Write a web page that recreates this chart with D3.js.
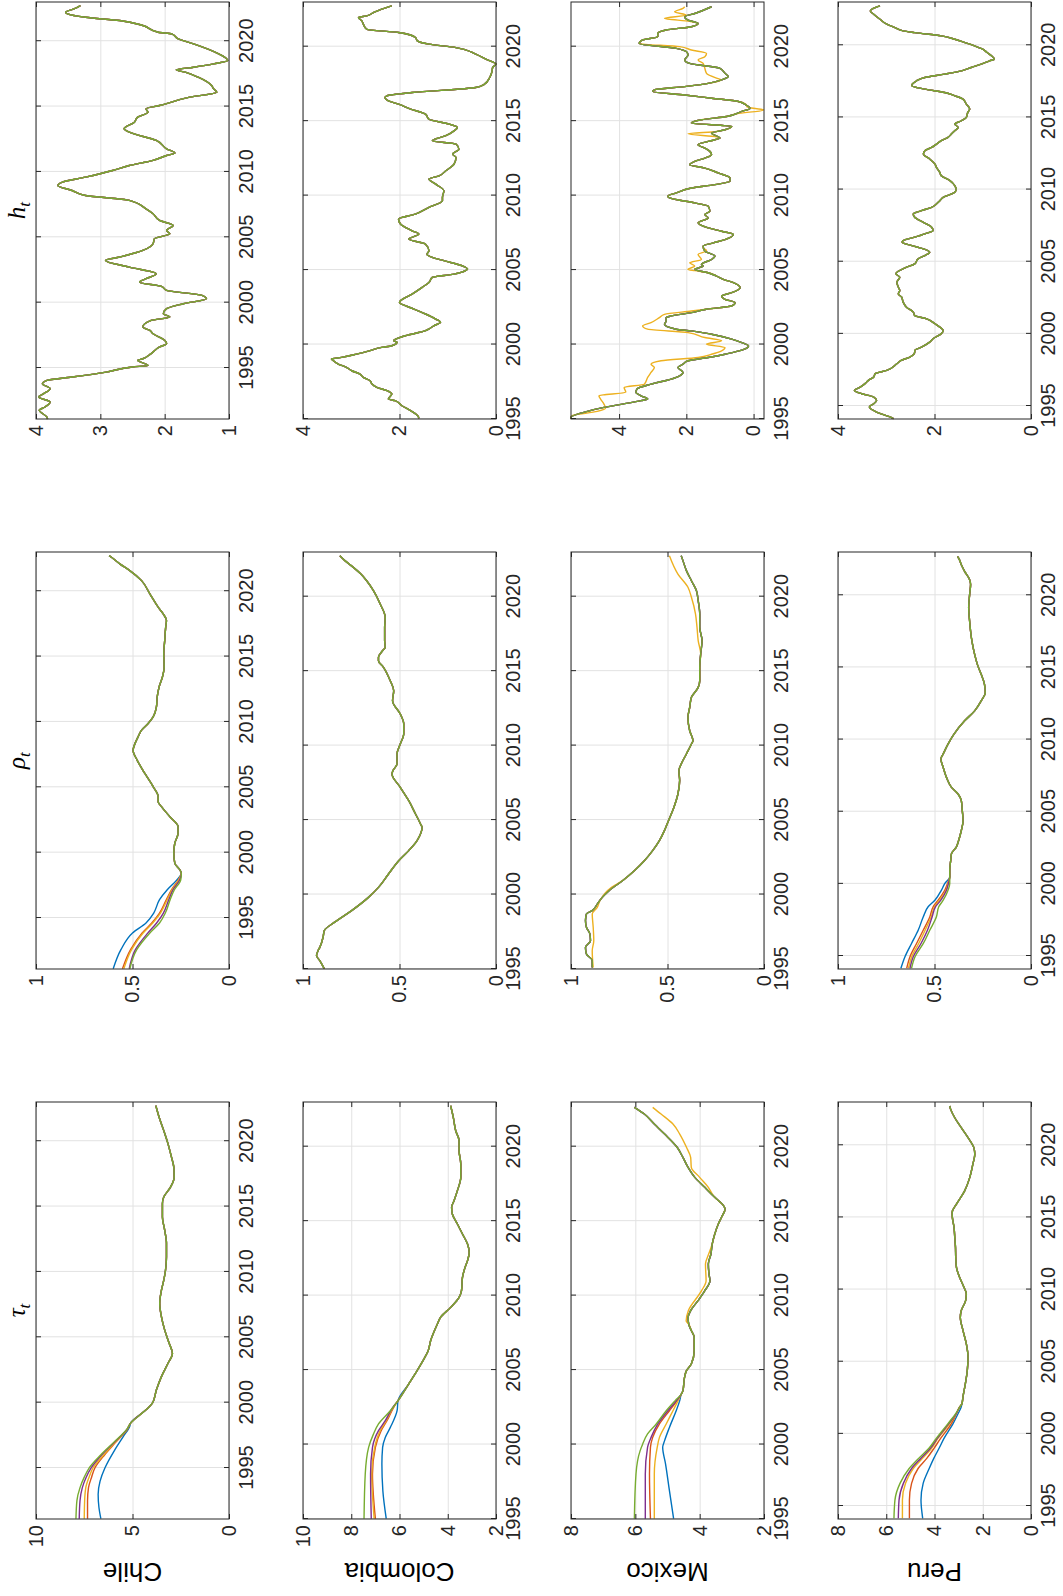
<!DOCTYPE html>
<meta charset="utf-8">
<title>Trend, persistence and volatility by country</title>
<style>
  body { margin: 0; background: #fff; }
  svg { display: block; }
  .tick text { font-family: "Liberation Sans", Arial, Helvetica, sans-serif; font-size: 20px; fill: #262626; }
  .frame line { stroke: #262626; }
  .grid line { stroke: #e2e2e2; }
  .domain { display: none; }
  .country { font-family: "Liberation Sans", Arial, Helvetica, sans-serif; font-size: 26px; fill: #000; }
  .title { font-family: "Liberation Serif", "DejaVu Serif", serif; font-style: italic; font-size: 25px; fill: #000; }
</style>
<body>
<svg width="1063" height="1596"></svg>
<script src="https://d3js.org/d3.v7.min.js"></script>
<script>
// ---------- data (year, value) ----------
const countries = ["Chile", "Colombia", "Mexico", "Peru"];
const titles = ["τ", "ρ", "h"];
const seriesColors = ["#0072BD", "#D95319", "#EDB120", "#7E2F8E", "#77AC30"];
const yearTicks = [1995, 2000, 2005, 2010, 2015, 2020];
const yearDomains = [[1991.1, 2023], [1995, 2023], [1995, 2023], [1994.1, 2023]];

const pairs = (ys, vs) => ys.map((y, i) => [y, vs[i]]);

// tau
const chileTauBase = [[1998.43,5.1],[1999.45,4.3],[1999.96,3.97],[2000.98,3.76],[2001.99,3.5],[2003.01,3.16],[2003.77,2.93],[2004.54,3.1],[2005.55,3.33],[2006.57,3.5],[2007.59,3.59],[2008.61,3.5],[2009.37,3.38],[2010.13,3.29],[2011.15,3.24],[2012.17,3.24],[2013.18,3.33],[2014.2,3.45],[2015.22,3.45],[2015.73,3.38],[2016.49,3.03],[2017.25,2.84],[2018.02,2.86],[2018.78,2.98],[2019.8,3.16],[2020.81,3.38],[2021.83,3.62],[2022.72,3.79]];
const chileTauHeads = [
  [[1991.12,6.64],[1992,6.74],[1993,6.78],[1994,6.68],[1995,6.43],[1996.4,5.91],[1997.4,5.48],[1998.2,5.14]],
  [[1991.12,7.33],[1992.5,7.33],[1993.5,7.28],[1994.3,7.12],[1995,6.95],[1996,6.45],[1997,5.85],[1998,5.25]],
  [[1991.12,7.5],[1992.5,7.48],[1993.5,7.42],[1994.3,7.25],[1995,7.05],[1996,6.5],[1997,5.88],[1998,5.26]],
  [[1991.12,7.76],[1992.5,7.72],[1993.5,7.6],[1994.3,7.4],[1995,7.15],[1996,6.6],[1997,5.92],[1998,5.27]],
  [[1991.12,7.93],[1992.5,7.88],[1993.5,7.72],[1994.3,7.5],[1995,7.25],[1996,6.65],[1997,5.95],[1998,5.28]]
];

const colombiaTauBase = [[2002.95,6.06],[2004.06,5.62],[2004.96,5.27],[2005.85,4.95],[2006.3,4.81],[2006.97,4.71],[2008.09,4.43],[2008.54,4.3],[2009.21,3.88],[2009.88,3.53],[2010.33,3.43],[2011.23,3.39],[2011.9,3.28],[2012.35,3.18],[2012.9,3.11],[2013.46,3.18],[2014.14,3.39],[2014.81,3.6],[2015.48,3.81],[2015.93,3.84],[2016.37,3.74],[2017.05,3.6],[2017.94,3.46],[2018.84,3.46],[2019.73,3.53],[2020.4,3.53],[2021.07,3.67],[2021.97,3.77],[2022.75,3.88]];
const colombiaTauHeads = [
  [[1995.02,6.55],[1996.9,6.69],[1998.69,6.73],[1999.81,6.7],[2000.48,6.59],[2001.15,6.38],[2002.27,6.1]],
  [[1995.02,7.0],[1998.02,7.12],[1999.81,7.0],[2000.93,6.76],[2001.6,6.52],[2002.5,6.24]],
  [[1995.02,7.05],[1998.02,7.15],[1999.81,7.03],[2000.93,6.8],[2001.6,6.55],[2002.5,6.26]],
  [[1995.02,7.17],[1998.02,7.2],[1999.81,7.12],[2000.93,6.87],[2001.6,6.59],[2002.5,6.28]],
  [[1995.02,7.47],[1998.02,7.42],[1999.81,7.28],[2000.7,7.08],[2001.38,6.87],[2002.27,6.38]]
];

const mexicoTauBase = [[2003.39,4.57],[2003.62,4.52],[2004.51,4.47],[2004.96,4.41],[2005.41,4.26],[2006.3,4.17],[2007.2,4.17],[2007.65,4.26],[2008.09,4.34],[2008.54,4.36],[2008.99,4.28],[2009.66,4.05],[2010.33,3.84],[2011.0,3.68],[2011.45,3.71],[2012.12,3.73],[2012.79,3.65],[2013.46,3.61],[2014.14,3.53],[2014.81,3.42],[2015.26,3.32],[2015.81,3.21],[2016.04,3.26],[2016.6,3.53],[2017.27,3.84],[2017.94,4.15],[2018.61,4.36],[2019.28,4.52],[2019.96,4.7],[2020.85,5.09],[2021.52,5.41],[2022.19,5.72],[2022.64,6.03]];
const mexicoTauHeads = [
  [[1995.02,4.81],[1996.9,4.94],[1998.69,5.06],[1999.81,5.15],[2000.26,5.09],[2001.15,4.94],[2002.27,4.73],[2002.95,4.62]],
  [[1995.02,5.53],[1998.02,5.56],[1999.81,5.53],[2000.48,5.46],[2001.38,5.25],[2002.27,4.94],[2002.95,4.7]],
  [[1995.02,5.41],[1998.02,5.41],[1999.81,5.32],[2000.48,5.25],[2001.38,5.04],[2002.27,4.83],[2002.95,4.67]],
  [[1995.02,5.69],[1998.02,5.69],[1999.81,5.62],[2000.48,5.51],[2001.38,5.3],[2002.27,4.99],[2002.95,4.72]],
  [[1995.02,6.03],[1998.02,5.98],[1999.59,5.85],[2000.04,5.77],[2000.71,5.62],[2001.38,5.35],[2002.27,5.04],[2002.95,4.76]]
];
const mexicoTauYellowMid = [[2008.3,4.42],[2009.0,4.35],[2010.33,3.94],[2011.0,3.8],[2012.12,3.82],[2012.79,3.72]];
const mexicoTauYellowTail = [[2016.8,3.6],[2017.27,3.73],[2017.94,4.0],[2018.61,4.26],[2019.28,4.28],[2019.96,4.41],[2020.85,4.62],[2021.52,4.83],[2022.19,5.2],[2022.64,5.46]];

const peruTauBase = [[2002.1,2.86],[2002.56,2.82],[2003.48,2.72],[2004.4,2.64],[2005.32,2.61],[2006.24,2.68],[2007.17,2.82],[2008.09,2.93],[2008.55,2.89],[2009.24,2.71],[2009.7,2.68],[2010.16,2.78],[2010.85,2.96],[2011.54,3.09],[2012.24,3.12],[2012.93,3.13],[2013.62,3.16],[2014.31,3.19],[2015.0,3.26],[2015.35,3.27],[2015.92,3.09],[2016.84,2.75],[2017.76,2.54],[2018.69,2.41],[2019.38,2.33],[2019.84,2.37],[2020.53,2.61],[2021.22,2.89],[2021.91,3.16],[2022.49,3.33],[2022.72,3.37]];
const peruTauHeadYears = [1994.15,1995.41,1996.57,1997.6,1998.3,1999.0,1999.7,2000.71,2001.41,2001.87];
const peruTauHeadValues = [
  [4.49,4.56,4.47,4.22,4.03,3.81,3.6,3.23,3.02,2.89],
  [5.04,5.04,4.95,4.68,4.32,4.02,3.74,3.3,3.09,2.96],
  [5.33,5.33,5.2,4.88,4.5,4.12,3.85,3.37,3.09,2.95],
  [5.5,5.47,5.29,4.95,4.57,4.17,3.88,3.41,3.1,2.95],
  [5.68,5.64,5.43,5.05,4.66,4.23,3.92,3.44,3.12,2.95]
];

// rho
const chileRhoBase = [[1998.43,0.247],[1998.69,0.255],[1999.2,0.281],[1999.96,0.286],[2000.72,0.281],[2001.49,0.264],[2001.99,0.264],[2002.76,0.307],[2003.52,0.35],[2003.9,0.367],[2004.28,0.367],[2005.05,0.393],[2006.06,0.436],[2007.08,0.476],[2007.84,0.497],[2008.1,0.493],[2008.86,0.471],[2009.37,0.453],[2009.88,0.419],[2010.39,0.393],[2011.15,0.376],[2011.91,0.372],[2012.68,0.362],[2013.44,0.345],[2014.2,0.336],[2015.22,0.338],[2016.24,0.333],[2017.25,0.328],[2017.76,0.324],[2018.27,0.341],[2018.78,0.367],[2019.8,0.41],[2020.81,0.453],[2021.58,0.514],[2022.09,0.566],[2022.6,0.609],[2022.72,0.621]];
const chileRhoHeadYears = [1991.12,1992.58,1993.86,1994.62,1995.38,1996.4,1997.16,1997.92];
const chileRhoHeadValues = [
  [0.6,0.56,0.5,0.43,0.39,0.36,0.32,0.27],
  [0.552,0.51,0.45,0.4,0.36,0.325,0.298,0.262],
  [0.545,0.505,0.445,0.395,0.355,0.32,0.295,0.26],
  [0.517,0.485,0.42,0.375,0.34,0.312,0.29,0.255],
  [0.514,0.478,0.41,0.36,0.33,0.305,0.283,0.25]
];

const colombiaRho = [[1995.02,0.89],[1995.56,0.913],[1995.9,0.93],[1996.23,0.922],[1996.45,0.913],[1997.13,0.896],[1997.57,0.89],[1998.13,0.838],[1998.92,0.748],[1999.81,0.661],[2000.48,0.609],[2001.38,0.557],[2002.27,0.504],[2002.95,0.452],[2003.62,0.409],[2004.51,0.383],[2004.74,0.391],[2005.41,0.417],[2006.3,0.452],[2007.2,0.496],[2008.09,0.539],[2008.32,0.534],[2008.76,0.513],[2009.44,0.513],[2010.11,0.496],[2010.78,0.478],[2011.45,0.478],[2012.12,0.496],[2013.02,0.536],[2013.69,0.53],[2014.36,0.548],[2015.26,0.583],[2015.7,0.609],[2015.93,0.609],[2016.37,0.588],[2016.6,0.574],[2017.05,0.577],[2017.94,0.577],[2018.61,0.574],[2019.51,0.6],[2020.4,0.635],[2021.07,0.67],[2021.52,0.7],[2021.97,0.739],[2022.42,0.783],[2022.75,0.809]];

const mexicoRho = [[1995.1,0.89],[1995.56,0.89],[1996.01,0.92],[1996.45,0.925],[1996.9,0.899],[1997.35,0.902],[1997.8,0.92],[1998.25,0.925],[1998.69,0.92],[1998.92,0.89],[1999.36,0.864],[1999.81,0.838],[2000.26,0.803],[2000.93,0.733],[2001.6,0.672],[2002.27,0.62],[2002.95,0.577],[2003.62,0.542],[2004.29,0.516],[2004.96,0.495],[2005.85,0.467],[2006.75,0.446],[2007.65,0.437],[2008.32,0.441],[2008.76,0.429],[2009.44,0.402],[2010.11,0.376],[2010.33,0.368],[2011.0,0.385],[2011.9,0.394],[2012.57,0.385],[2013.24,0.376],[2013.91,0.341],[2014.36,0.333],[2015.26,0.333],[2016.15,0.328],[2017.05,0.321],[2017.94,0.333],[2018.84,0.333],[2019.73,0.341],[2020.4,0.35],[2021.07,0.376],[2021.75,0.402],[2022.42,0.42],[2022.75,0.429]];
const mexicoRhoYellowHead = [[1995.1,0.885],[1996.23,0.89],[1996.9,0.882],[1997.8,0.885],[1998.69,0.89],[1999.14,0.864],[1999.59,0.85],[2000.48,0.79]];
const mexicoRhoYellowTail = [[2017.05,0.341],[2017.94,0.347],[2018.84,0.355],[2019.96,0.376],[2020.63,0.394],[2021.52,0.446],[2022.75,0.49]];

const peruRhoBase = [[2000.48,0.421],[2000.94,0.421],[2001.63,0.416],[2002.09,0.412],[2002.55,0.387],[2003.01,0.375],[2003.7,0.361],[2004.39,0.352],[2005.08,0.356],[2005.77,0.361],[2006.23,0.378],[2006.69,0.412],[2007.38,0.438],[2008.08,0.455],[2008.65,0.467],[2009.0,0.455],[2009.69,0.43],[2010.38,0.399],[2011.3,0.344],[2011.99,0.292],[2012.68,0.258],[2013.25,0.237],[2013.83,0.241],[2014.52,0.258],[2015.21,0.278],[2015.9,0.292],[2016.82,0.306],[2017.51,0.313],[2018.2,0.318],[2019.13,0.323],[2020.05,0.318],[2020.74,0.313],[2021.08,0.318],[2021.66,0.344],[2022.12,0.361],[2022.58,0.375],[2022.69,0.381]];
const peruRhoHeadYears = [1994.15,1994.95,1995.87,1996.8,1997.72,1998.41,1998.87,1999.56,2000.02];
const peruRhoHeadValues = [
  [0.674,0.653,0.619,0.584,0.558,0.533,0.498,0.464,0.447],
  [0.644,0.627,0.593,0.558,0.524,0.507,0.481,0.447,0.433],
  [0.635,0.618,0.582,0.548,0.517,0.5,0.474,0.44,0.43],
  [0.627,0.61,0.57,0.536,0.512,0.495,0.467,0.438,0.428],
  [0.619,0.601,0.558,0.524,0.49,0.478,0.455,0.43,0.421]
];

// h
const chileH = [[1991.1,3.82],[1991.25,3.83],[1991.76,3.95],[1992.02,3.86],[1992.4,3.78],[1992.78,3.96],[1993.04,3.88],[1993.42,3.78],[1993.8,3.9],[1994.06,3.83],[1994.31,3.44],[1994.69,2.91],[1995.08,2.5],[1995.2,2.26],[1995.59,2.42],[1995.71,2.34],[1996.1,2.21],[1996.61,2.08],[1996.86,1.97],[1997.12,2.0],[1997.62,2.18],[1997.88,2.23],[1998.13,2.34],[1998.64,2.21],[1998.9,1.92],[1999.15,2.02],[1999.54,1.97],[1999.92,1.71],[2000.3,1.35],[2000.56,1.42],[2000.94,1.97],[2001.24,2.05],[2001.57,2.39],[2001.83,2.29],[2002.21,2.13],[2002.72,2.55],[2003.23,2.92],[2003.49,2.7],[2004.0,2.34],[2004.51,2.18],[2004.89,2.16],[2005.27,1.92],[2005.52,1.97],[2005.91,1.87],[2006.29,2.08],[2006.8,2.18],[2007.18,2.29],[2007.82,2.55],[2008.2,3.23],[2008.58,3.44],[2008.97,3.66],[2009.22,3.59],[2009.6,3.23],[2010.11,2.81],[2010.49,2.55],[2010.88,2.18],[2011.26,1.97],[2011.44,1.84],[2011.77,1.97],[2012.41,2.13],[2013.04,2.55],[2013.3,2.63],[2013.81,2.47],[2014.19,2.42],[2014.57,2.26],[2014.83,2.29],[2015.08,2.08],[2015.72,1.61],[2016.1,1.19],[2016.36,1.24],[2016.61,1.27],[2017.25,1.48],[2017.63,1.68],[2017.81,1.82],[2018.01,1.55],[2018.27,1.24],[2018.52,1.02],[2019.03,1.16],[2019.8,1.55],[2020.18,1.79],[2020.56,1.89],[2020.69,2.1],[2021.2,2.34],[2021.58,2.7],[2021.83,3.23],[2022.09,3.51],[2022.22,3.54],[2022.47,3.41],[2022.73,3.31]];

const colombiaH = [[1995.05,1.6],[1995.16,1.61],[1995.56,1.77],[1995.89,1.95],[1996.23,2.09],[1996.34,2.23],[1996.68,2.16],[1996.9,2.26],[1997.13,2.47],[1997.35,2.57],[1997.57,2.61],[1997.8,2.75],[1998.02,2.82],[1998.24,2.99],[1998.47,3.1],[1998.69,3.27],[1998.91,3.37],[1999.03,3.41],[1999.14,3.2],[1999.36,2.89],[1999.59,2.61],[1999.81,2.37],[1999.92,2.16],[2000.15,2.05],[2000.26,2.12],[2000.59,1.88],[2000.93,1.46],[2001.04,1.39],[2001.26,1.29],[2001.49,1.15],[2001.71,1.25],[2002.05,1.46],[2002.38,1.7],[2002.61,1.88],[2002.83,2.0],[2002.94,1.98],[2003.39,1.74],[2003.84,1.53],[2004.17,1.39],[2004.51,1.32],[2004.73,0.87],[2004.96,0.63],[2005.07,0.59],[2005.29,0.7],[2005.63,1.08],[2005.85,1.32],[2006.07,1.43],[2006.3,1.39],[2006.74,1.46],[2007.08,1.81],[2007.42,1.6],[2007.64,1.74],[2008.09,1.98],[2008.42,2.02],[2008.76,1.67],[2009.21,1.39],[2009.65,1.11],[2009.88,1.11],[2010.32,1.08],[2010.77,1.25],[2011.11,1.39],[2011.33,1.18],[2011.67,1.04],[2012.11,0.87],[2012.56,0.83],[2012.79,0.9],[2013.12,0.77],[2013.46,0.83],[2013.68,1.32],[2014.02,1.04],[2014.35,0.87],[2014.57,0.8],[2014.8,0.97],[2015.13,1.39],[2015.47,1.46],[2015.81,1.77],[2016.14,2.02],[2016.36,2.23],[2016.59,2.3],[2016.7,2.26],[2016.92,1.74],[2017.26,0.42],[2017.48,0.24],[2017.93,0.13],[2018.38,0.08],[2018.6,0.07],[2018.83,0.0],[2019.16,0.21],[2019.5,0.42],[2019.94,0.83],[2020.17,1.39],[2020.39,1.63],[2020.62,1.67],[2020.95,2.02],[2021.17,2.68],[2021.51,2.75],[2021.73,2.78],[2021.96,2.85],[2022.07,2.68],[2022.29,2.54],[2022.52,2.37],[2022.74,2.16]];

const mexicoH = [[1995.02,5.43],[1995.11,5.43],[1995.45,5.05],[1995.78,4.45],[1996.0,3.9],[1996.23,3.35],[1996.34,3.15],[1996.56,3.35],[1996.79,3.5],[1997.01,3.47],[1997.34,3.05],[1997.68,2.45],[1997.9,2.2],[1998.13,2.1],[1998.46,2.25],[1998.68,2.1],[1998.91,1.95],[1999.13,1.35],[1999.35,0.85],[1999.69,0.27],[1999.91,0.15],[2000.13,0.35],[2000.36,0.65],[2000.69,1.25],[2000.92,1.85],[2001.03,2.3],[2001.36,2.65],[2001.58,2.6],[2001.81,2.6],[2001.92,2.45],[2002.14,1.85],[2002.37,1.4],[2002.59,0.65],[2002.81,0.55],[2003.04,0.85],[2003.26,0.95],[2003.48,0.65],[2003.82,0.4],[2004.15,0.6],[2004.38,0.9],[2004.6,1.1],[2004.82,1.35],[2005.04,1.75],[2005.27,1.5],[2005.38,1.55],[2005.71,1.25],[2005.94,1.15],[2006.27,1.45],[2006.61,1.5],[2006.83,1.2],[2007.05,0.85],[2007.39,0.6],[2007.61,0.95],[2007.83,1.35],[2008.17,1.65],[2008.5,1.35],[2008.73,1.45],[2008.95,1.3],[2009.29,1.35],[2009.51,1.75],[2009.84,2.5],[2009.96,2.55],[2010.18,2.3],[2010.51,1.85],[2010.74,1.15],[2010.96,0.7],[2011.18,0.7],[2011.52,1.05],[2011.85,1.45],[2012.08,1.9],[2012.3,1.75],[2012.52,1.45],[2012.75,1.25],[2012.97,1.3],[2013.19,1.45],[2013.42,1.65],[2013.64,1.35],[2013.86,1.0],[2014.2,1.25],[2014.42,0.85],[2014.64,0.65],[2014.87,1.85],[2015.09,1.55],[2015.31,0.8],[2015.65,0.35],[2015.87,0.1],[2016.05,0.2],[2016.32,0.45],[2016.54,1.25],[2016.76,2.05],[2016.99,3.0],[2017.1,2.95],[2017.32,2.05],[2017.54,1.35],[2017.77,0.95],[2017.99,0.75],[2018.21,0.85],[2018.55,1.0],[2018.88,1.9],[2019.11,2.05],[2019.44,1.95],[2019.67,2.0],[2019.89,2.3],[2020.22,3.4],[2020.45,3.3],[2020.67,2.85],[2020.89,2.85],[2021.12,2.6],[2021.34,1.85],[2021.56,1.65],[2021.79,1.95],[2022.01,2.05],[2022.23,1.75],[2022.68,1.25]];
const mexicoHYellow = [
  [[1995.02,5.43],[1995.22,5.4],[1995.51,4.65],[1995.74,4.4],[1996.0,4.45],[1996.34,4.55],[1996.56,4.6],[1996.79,3.8],[1997.12,3.85],[1997.34,3.25],[1997.79,3.15],[1998.13,3.05],[1998.46,2.95],[1998.68,3.05],[1998.91,2.75],[1999.13,1.65],[1999.35,1.25],[1999.58,0.95],[1999.8,0.85],[2000.02,1.4],[2000.25,0.95],[2000.47,1.45],[2000.8,1.95],[2001.03,3.15],[2001.25,3.3],[2001.47,3.05],[2001.81,2.8],[2002.03,2.65],[2002.25,1.85]],
  [[2004.96,1.75],[2005.04,1.95],[2005.27,1.75],[2005.49,1.9],[2005.71,1.55],[2006.05,1.65],[2006.3,1.4],[2006.5,1.5]],
  [[2013.95,1.1],[2014.15,1.95],[2014.3,1.1]],
  [[2015.5,0.5],[2015.75,-0.3],[2015.95,0.2]],
  [[2017.85,1.05],[2018.21,1.4],[2018.55,1.45],[2018.88,1.5],[2019.11,1.65],[2019.33,1.45],[2019.55,1.4],[2019.78,1.85],[2020.0,2.2]],
  [[2021.7,1.9],[2021.9,2.65],[2022.12,2.0],[2022.34,2.35],[2022.57,2.1],[2022.68,2.05]]
];

const peruH = [[1994.12,2.85],[1994.24,2.92],[1994.58,3.2],[1994.93,3.35],[1995.16,3.26],[1995.39,3.2],[1995.62,3.26],[1995.85,3.51],[1996.08,3.66],[1996.31,3.54],[1996.55,3.44],[1996.78,3.37],[1997.01,3.26],[1997.24,3.23],[1997.47,2.99],[1997.93,2.78],[1998.16,2.69],[1998.39,2.51],[1998.74,2.41],[1998.85,2.41],[1999.08,2.27],[1999.43,2.1],[1999.66,2.03],[2000.01,1.86],[2000.24,1.82],[2000.47,1.89],[2000.7,1.99],[2001.04,2.16],[2001.27,2.41],[2001.51,2.44],[2001.85,2.58],[2002.2,2.65],[2002.54,2.68],[2002.77,2.75],[2003.0,2.72],[2003.24,2.75],[2003.58,2.78],[2003.93,2.72],[2004.16,2.8],[2004.62,2.58],[2004.85,2.41],[2005.2,2.34],[2005.43,2.2],[2005.66,2.1],[2005.89,2.23],[2006.12,2.47],[2006.35,2.67],[2006.46,2.65],[2006.7,2.41],[2006.93,2.2],[2007.16,2.03],[2007.39,2.06],[2007.73,2.23],[2008.08,2.41],[2008.31,2.44],[2008.54,2.27],[2008.77,2.06],[2009.0,1.96],[2009.23,1.89],[2009.46,1.82],[2009.81,1.58],[2010.04,1.55],[2010.27,1.58],[2010.62,1.68],[2010.96,1.86],[2011.19,1.89],[2011.54,1.96],[2011.77,1.99],[2012.12,2.1],[2012.46,2.23],[2012.69,2.2],[2012.92,2.06],[2013.15,1.96],[2013.39,1.86],[2013.62,1.72],[2013.85,1.65],[2014.08,1.58],[2014.31,1.51],[2014.54,1.58],[2014.77,1.44],[2015.0,1.34],[2015.35,1.31],[2015.58,1.27],[2015.92,1.34],[2016.27,1.41],[2016.5,1.58],[2016.73,1.79],[2016.96,2.2],[2017.19,2.47],[2017.31,2.46],[2017.54,2.37],[2017.77,2.2],[2018.0,1.79],[2018.23,1.44],[2018.46,1.24],[2018.69,1.03],[2018.92,0.86],[2019.04,0.76],[2019.27,0.82],[2019.5,0.91],[2019.73,1.0],[2019.96,1.17],[2020.19,1.37],[2020.42,1.58],[2020.65,1.86],[2020.88,2.41],[2021.0,2.65],[2021.23,2.82],[2021.46,2.99],[2021.8,3.13],[2022.15,3.26],[2022.38,3.33],[2022.5,3.3],[2022.73,3.13]];

// ---------- assemble series ----------
// each series = base points, with read-off segments replacing the base over their year span
function merge(base, segs) {
  let pts = base.slice();
  segs.forEach(s => {
    const lo = s[0][0], hi = s[s.length - 1][0];
    pts = pts.filter(p => p[0] < lo || p[0] > hi).concat(s);
  });
  return pts.sort((a, b) => a[0] - b[0]);
}
const same = base => seriesColors.map(() => base);

const panels = [
  {row: 0, col: 0, yDomain: [0, 10], yTicks: [0, 5, 10], series: chileTauHeads.map(h => merge(chileTauBase, [h]))},
  {row: 1, col: 0, yDomain: [2, 10], yTicks: [2, 4, 6, 8, 10], series: colombiaTauHeads.map(h => merge(colombiaTauBase, [h]))},
  {row: 2, col: 0, yDomain: [2, 8], yTicks: [2, 4, 6, 8], series: mexicoTauHeads.map((h, i) =>
      merge(mexicoTauBase, i === 2 ? [h, mexicoTauYellowMid, mexicoTauYellowTail] : [h]))},
  {row: 3, col: 0, yDomain: [0, 8], yTicks: [0, 2, 4, 6, 8], series: peruTauHeadValues.map(v => merge(peruTauBase, [pairs(peruTauHeadYears, v)]))},

  {row: 0, col: 1, yDomain: [0, 1], yTicks: [0, 0.5, 1], series: chileRhoHeadValues.map(v => merge(chileRhoBase, [pairs(chileRhoHeadYears, v)]))},
  {row: 1, col: 1, yDomain: [0, 1], yTicks: [0, 0.5, 1], series: same(colombiaRho)},
  {row: 2, col: 1, yDomain: [0, 1], yTicks: [0, 0.5, 1], series: seriesColors.map((c, i) =>
      i === 2 ? merge(mexicoRho, [mexicoRhoYellowHead, mexicoRhoYellowTail]) : mexicoRho)},
  {row: 3, col: 1, yDomain: [0, 1], yTicks: [0, 0.5, 1], series: peruRhoHeadValues.map(v => merge(peruRhoBase, [pairs(peruRhoHeadYears, v)]))},

  {row: 0, col: 2, yDomain: [1, 4], yTicks: [1, 2, 3, 4], series: same(chileH)},
  {row: 1, col: 2, yDomain: [0, 4], yTicks: [0, 2, 4], series: same(colombiaH)},
  {row: 2, col: 2, yDomain: [-0.31, 5.43], yTicks: [0, 2, 4], series: seriesColors.map((c, i) =>
      i === 2 ? merge(mexicoH, mexicoHYellow) : mexicoH)},
  {row: 3, col: 2, yDomain: [0, 4], yTicks: [0, 2, 4], series: same(peruH)}
];

// ---------- layout (landscape figure, turned a quarter turn on the page) ----------
const figW = 1596, figH = 1063;
const colLeft = [77, 627, 1177], panelW = 417;
const rowTop = [36, 303, 571, 838], panelH = 193;

const fig = d3.select("svg").append("g")
  .attr("transform", `translate(0,${figW}) rotate(-90)`);

function drawPanel(p) {
  const left = colLeft[p.col], top = rowTop[p.row];
  const x = d3.scaleLinear().domain(yearDomains[p.row]).range([left, left + panelW]);
  const y = d3.scaleLinear().domain(p.yDomain).range([top + panelH, top]);
  const g = fig.append("g");

  g.append("g").attr("class", "grid").attr("transform", `translate(0,${top + panelH})`)
    .call(d3.axisBottom(x).tickValues(yearTicks).tickSize(-panelH).tickFormat(""));
  g.append("g").attr("class", "grid").attr("transform", `translate(${left},0)`)
    .call(d3.axisLeft(y).tickValues(p.yTicks).tickSize(-panelW).tickFormat(""));

  const line = d3.line().x(d => x(d[0])).y(d => y(d[1])).curve(d3.curveMonotoneX);
  p.series.forEach((pts, i) => {
    g.append("path").attr("d", line(pts))
      .attr("fill", "none").attr("stroke", seriesColors[i]).attr("stroke-width", 1.4);
  });

  g.append("g").attr("class", "frame").attr("transform", `translate(0,${top + panelH})`)
    .call(d3.axisBottom(x).tickValues(yearTicks).tickSize(-5).tickPadding(10).tickFormat(d3.format("d")));
  g.append("g").attr("class", "frame").attr("transform", `translate(0,${top})`)
    .call(d3.axisTop(x).tickValues(yearTicks).tickSize(-5).tickFormat(""));
  g.append("g").attr("class", "frame").attr("transform", `translate(${left},0)`)
    .call(d3.axisLeft(y).tickValues(p.yTicks).tickSize(-5).tickPadding(6).tickFormat(d3.format("~g")));
  g.append("g").attr("class", "frame").attr("transform", `translate(${left + panelW},0)`)
    .call(d3.axisRight(y).tickValues(p.yTicks).tickSize(-5).tickFormat(""));

  g.append("rect").attr("x", left).attr("y", top).attr("width", panelW).attr("height", panelH)
    .attr("fill", "none").attr("stroke", "#262626").attr("stroke-width", 1);
}
panels.forEach(drawPanel);

// country labels
countries.forEach((c, i) => {
  fig.append("text").attr("class", "country")
    .attr("transform", `translate(33,${rowTop[i] + panelH / 2}) rotate(-90)`)
    .attr("text-anchor", "middle").text(c);
});

// column titles
titles.forEach((t, i) => {
  const tx = fig.append("text").attr("class", "title")
    .attr("x", colLeft[i] + panelW / 2).attr("y", 25).attr("text-anchor", "middle");
  tx.append("tspan").text(t);
  tx.append("tspan").attr("font-size", "17px").attr("dy", 5).text("t");
});
</script>
</body>
